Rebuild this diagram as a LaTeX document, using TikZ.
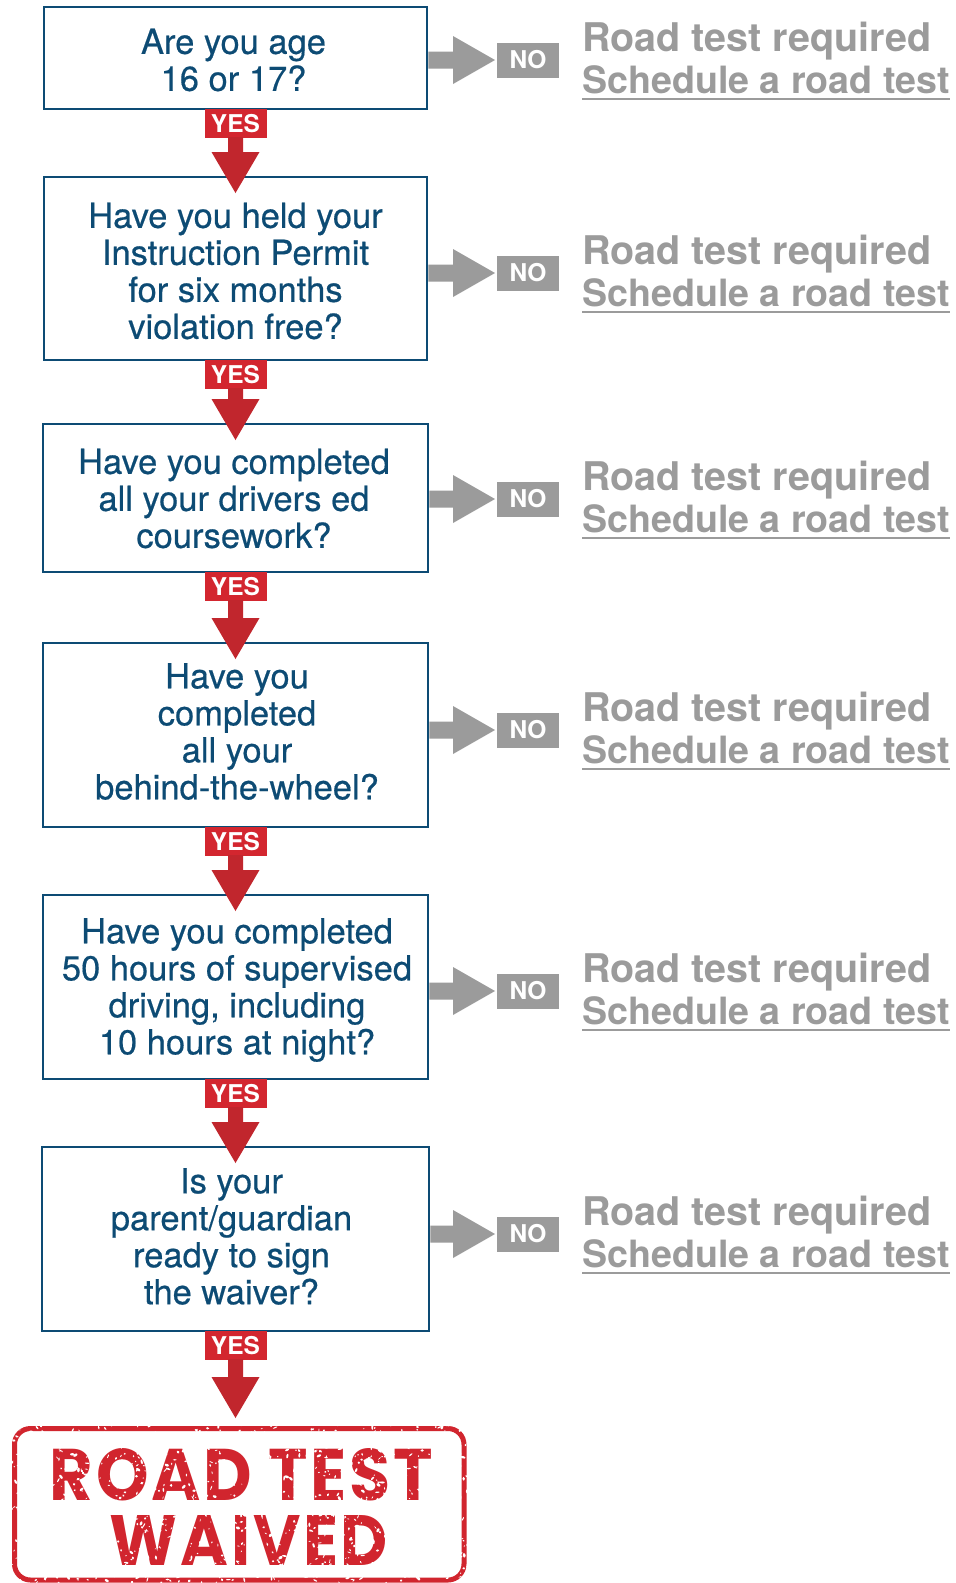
\documentclass[tikz,border=0pt]{standalone}
\usepackage{graphicx}
\usepackage{fontspec}
\setmainfont{TeX Gyre Heros}
\newfontfamily\qfont[FakeBold=0.5]{TeX Gyre Heros}
\newfontfamily\stampfont[LetterSpace=4]{Poppins}
\usetikzlibrary{calc}
\definecolor{qblue}{HTML}{0D4B74}
\definecolor{nogray}{HTML}{9B9B9B}
\definecolor{yesred}{HTML}{D3262F}
\definecolor{arrowred}{HTML}{C1262D}
\definecolor{stampred}{HTML}{D1252E}
\tikzset{
 qbox/.style={draw=qblue, line width=2.5pt, fill=white, inner sep=0pt, outer sep=0pt},
 qtext/.style={text=qblue, align=center, inner sep=0pt, outer sep=0pt, font=\qfont\fontsize{34.5}{37}\selectfont},
 yeslabel/.style={fill=yesred, text=white, minimum width=62pt, minimum height=29pt, inner sep=0pt, outer sep=0pt, font=\fontsize{24.5}{24.5}\selectfont\bfseries, anchor=north},
 nolabel/.style={fill=nogray, text=white, minimum width=62pt, minimum height=35pt, inner sep=0pt, outer sep=0pt, font=\fontsize{24.5}{24.5}\selectfont\bfseries},
 reqtext/.style={text=nogray, inner sep=0pt, anchor=base west, font=\fontsize{39.5}{39.5}\selectfont\bfseries},
 schtext/.style={text=nogray, inner sep=0pt, anchor=base west, font=\fontsize{37.6}{37.6}\selectfont\bfseries},
 stamptext/.style={text=stampred, inner sep=0pt, anchor=base},
}
\newcommand\yesarrow[3]{\fill[arrowred] ($(#1.south)+(-7.5,-1)$) -- ($(#1.south)+(7.5,-1)$) -- ($(#1.south |- #2.north)+(7.5,#3-41)$) -- ($(#1.south |- #2.north)+(24,#3-41)$) -- ($(#1.south |- #2.north)+(0,#3)$) -- ($(#1.south |- #2.north)+(-24,#3-41)$) -- ($(#1.south |- #2.north)+(-7.5,#3-41)$) -- cycle;}
\newcommand\noarrow[2]{\fill[nogray] ($(#1.east |- #2.west)+(1.25,-8.5)$) -- ($(#2.west)+(-44,-8.5)$) -- ($(#2.west)+(-44,-24)$) -- ($(#2.west)+(-2,0)$) -- ($(#2.west)+(-44,24)$) -- ($(#2.west)+(-44,8.5)$) -- ($(#1.east |- #2.west)+(1.25,8.5)$) -- cycle;}
\begin{document}
\begin{tikzpicture}[x=1pt,y=-1pt]
\useasboundingbox[fill=white] (0,0) rectangle (956,1583);
% question boxes
\node[qbox, minimum width=383pt, minimum height=102pt] (b1) at (235.5,58) {};
\node[qbox, minimum width=383pt, minimum height=183pt] (b2) at (235.5,268.5) {};
\node[qbox, minimum width=385pt, minimum height=148pt] (b3) at (235.5,498) {};
\node[qbox, minimum width=385pt, minimum height=184pt] (b4) at (235.5,735) {};
\node[qbox, minimum width=385pt, minimum height=184pt] (b5) at (235.5,987) {};
\node[qbox, minimum width=387pt, minimum height=184pt] (b6) at (235.5,1239) {};
\node[qtext] (t1) at ($(b1.center)+(-2,2)$) {Are you age\\16 or 17?};
\node[qtext] (t2) at ($(b2.center)+(0,2.5)$) {Have you held your\\Instruction Permit\\for six months\\violation free?};
\node[qtext] (t3) at ($(b3.center)+(-1.5,0.5)$) {Have you completed\\all your drivers ed\\coursework?};
\node[qtext] (t4) at ($(b4.center)+(1.5,-3.5)$) {Have you\\completed\\all your\\behind-the-wheel?};
\node[qtext] (t5) at ($(b5.center)+(1.5,3)$) {Have you completed\\50 hours of supervised\\driving, including\\10 hours at night?};
\node[qtext] (t6) at ($(b6.center)+(-4,-2.6)$) {Is your\\parent/guardian\\ready to sign\\the waiver?};
% stamp
\node[draw=stampred, line width=5pt, rounded corners=16pt, minimum width=449.5pt, minimum height=151.5pt, inner sep=0pt, outer sep=0pt] (stamp) at (239.25,1504.25) {};
\node[stamptext] (st1) at (241.5,1500) {\resizebox{383pt}{52pt}{\stampfont\bfseries ROAD TEST}};
\node[stamptext] (st2) at (249,1565) {\resizebox{278pt}{50pt}{\stampfont\bfseries WAIVED}};
\pgfmathsetseed{4217}
\foreach \k in {1,...,1300} {
  \pgfmathsetmacro\sx{10+460*rnd}
  \pgfmathsetmacro\sy{1424+159*rnd}
  \pgfmathsetmacro\ra{0.5+2.0*rnd}
  \pgfmathsetmacro\rb{0.4+1.0*rnd}
  \pgfmathsetmacro\an{180*rnd}
  \fill[white, rotate around={\an:(\sx,\sy)}] (\sx,\sy) ellipse[x radius=\ra, y radius=\rb];
}
% yes labels and arrows
\foreach \i in {1,...,6} {\node[yeslabel] (y\i) at (b\i.south) {YES};}
\yesarrow{y1}{b2}{16}
\yesarrow{y2}{b3}{16}
\yesarrow{y3}{b4}{16}
\yesarrow{y4}{b5}{16}
\yesarrow{y5}{b6}{16}
\yesarrow{y6}{stamp}{-10.5}
% no branches
\foreach \i/\y in {1/60,2/273,3/499,4/730,5/991,6/1234} {
  \node[nolabel] (no\i) at (528,\y) {NO};
  \noarrow{b\i}{no\i}
  \node[reqtext] (req\i) at (582,\y-9) {Road test required};
  \node[schtext] (sch\i) at (582,\y+33) {Schedule a road test};
  \draw[nogray, line width=2pt] ($(sch\i.base west)+(0,6)$) -- ($(sch\i.base east)+(0,6)$);
}
\end{tikzpicture}
\end{document}
